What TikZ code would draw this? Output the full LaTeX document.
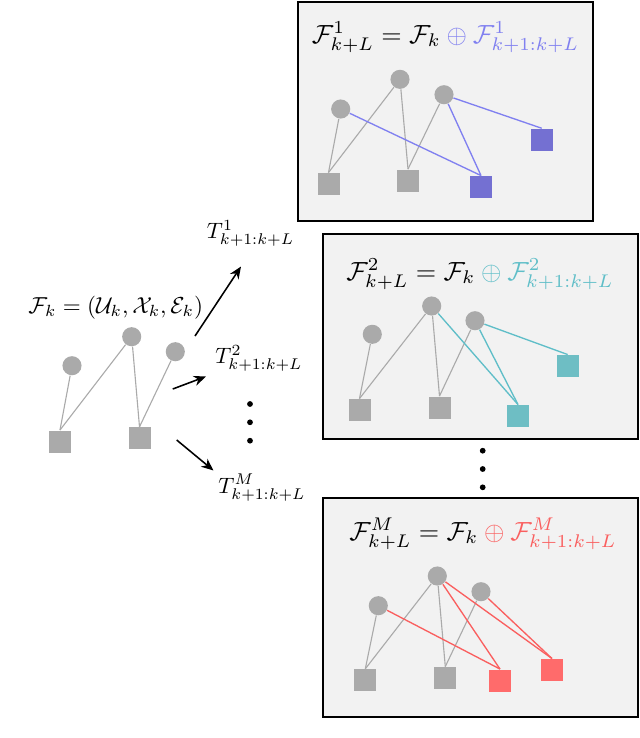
\documentclass[tikz,border=0pt]{standalone}
\usetikzlibrary{arrows.meta}
\definecolor{nodegray}{RGB}{170,170,170}
\definecolor{edgegray}{RGB}{170,170,170}
\definecolor{panelfill}{RGB}{242,242,242}
\definecolor{blueS}{RGB}{116,112,210}
\definecolor{blueL}{RGB}{128,128,240}
\definecolor{tealS}{RGB}{110,190,196}
\definecolor{tealL}{RGB}{95,190,200}
\definecolor{redS}{RGB}{255,107,107}
\definecolor{redL}{RGB}{250,95,95}
\begin{document}
\begin{tikzpicture}[x=0.45pt,y=-0.45pt,
  vert/.style={circle,fill=nodegray,minimum size=8.6pt,inner sep=0pt},
  fac/.style={rectangle,fill=#1,minimum size=9.9pt,inner sep=0pt},
  fac/.default=nodegray,
  gedge/.style={draw=edgegray,line width=0.5pt},
  cedge/.style={draw=#1,line width=0.6pt},
  panel/.style={draw=black,fill=panelfill,line width=0.9pt},
  bigarrow/.style={-{Stealth[length=5.5pt,width=4.6pt]},line width=0.7pt},
  dotn/.style={circle,fill=black,minimum size=2.6pt,inner sep=0pt},
  lbl/.style={inner sep=0pt,anchor=base,scale=1.18},
  lblw/.style={inner sep=0pt,anchor=base west}]
\useasboundingbox (0,0) rectangle (640,738);

% ---------- left graph ----------
\node[lblw,scale=1.04] (fk) at (28,313) {$\mathcal{F}_k=(\mathcal{U}_k,\mathcal{X}_k,\mathcal{E}_k)$};
\node[vert] (l1) at (72,365.7) {};
\node[vert] (l2) at (131.7,336.7) {};
\node[vert] (l3) at (175.3,351.7) {};
\node[fac] (ls1) at (60,441.5) {};
\node[fac] (ls2) at (139.5,438.3) {};
\draw[gedge] (l1) -- (ls1.north);
\draw[gedge] (l2) -- (ls1.north);
\draw[gedge] (l2) -- (ls2.north);
\draw[gedge] (l3) -- (ls2.north);

% arrows and trajectory labels
\coordinate (a1s) at (195,336);
\coordinate (a1e) at (241,266.5);
\coordinate (a2s) at (172.7,389);
\coordinate (a2e) at (206,376.5);
\coordinate (a3s) at (176.7,440);
\coordinate (a3e) at (213.5,470.5);
\draw[bigarrow] (a1s) -- (a1e);
\draw[bigarrow] (a2s) -- (a2e);
\draw[bigarrow] (a3s) -- (a3e);
\node[lblw] (t1) at (206.5,238.5) {$T^{1}_{k+1:k+L}$};
\node[lblw] (t2) at (215,363.5) {$T^{2}_{k+1:k+L}$};
\node[lblw] (tm) at (218,493) {$T^{M}_{k+1:k+L}$};
\node[dotn] (ld1) at (250,404) {};
\node[dotn] (ld2) at (250,422.3) {};
\node[dotn] (ld3) at (250,440.7) {};

% ---------- panel 1 ----------
\draw[panel] (298,2) rectangle (593,221);
\node[lbl] (f1) at (445.5,43) {$\mathcal{F}^{1}_{k+L}=\mathcal{F}_k\textcolor{blueL}{{}\oplus\mathcal{F}^{1}_{k+1:k+L}}$};
\node[vert] (a1) at (340.7,109) {};
\node[vert] (a2) at (400,79.3) {};
\node[vert] (a3) at (444,94.7) {};
\node[fac] (as1) at (328.5,184) {};
\node[fac] (as2) at (408,180.5) {};
\node[fac=blueS] (as3) at (481,187) {};
\node[fac=blueS] (as4) at (541.7,139.7) {};
\draw[gedge] (a1) -- (as1.north);
\draw[gedge] (a2) -- (as1.north);
\draw[gedge] (a2) -- (as2.north);
\draw[gedge] (a3) -- (as2.north);
\draw[cedge=blueL] (a1) -- (as3.north);
\draw[cedge=blueL] (a3) -- (as3.north);
\draw[cedge=blueL] (a3) -- (as4.north);

% ---------- panel 2 ----------
\draw[panel] (322.5,234) rectangle (638,439);
\node[lbl] (f2) at (480,280) {$\mathcal{F}^{2}_{k+L}=\mathcal{F}_k\textcolor{tealL}{{}\oplus\mathcal{F}^{2}_{k+1:k+L}}$};
\node[vert] (b1) at (372.3,334.3) {};
\node[vert] (b2) at (431.7,306) {};
\node[vert] (b3) at (475,320.7) {};
\node[fac] (bs1) at (359.5,410) {};
\node[fac] (bs2) at (439.5,407.5) {};
\node[fac=tealS] (bs3) at (518,416) {};
\node[fac=tealS] (bs4) at (567.7,366) {};
\draw[gedge] (b1) -- (bs1.north);
\draw[gedge] (b2) -- (bs1.north);
\draw[gedge] (b2) -- (bs2.north);
\draw[gedge] (b3) -- (bs2.north);
\draw[cedge=tealL] (b2) -- (bs3.north);
\draw[cedge=tealL] (b3) -- (bs3.north);
\draw[cedge=tealL] (b3) -- (bs4.north);

% dots between panels
\node[dotn] (rd1) at (482.7,450.7) {};
\node[dotn] (rd2) at (482.7,469) {};
\node[dotn] (rd3) at (482.7,487.3) {};

% ---------- panel M ----------
\draw[panel] (322.5,498) rectangle (638,717);
\node[lbl] (f3) at (483,540) {$\mathcal{F}^{M}_{k+L}=\mathcal{F}_k\textcolor{redL}{{}\oplus\mathcal{F}^{M}_{k+1:k+L}}$};
\node[vert] (c1) at (378.3,605.7) {};
\node[vert] (c2) at (437.3,576) {};
\node[vert] (c3) at (481,591.7) {};
\node[fac] (cs1) at (365.3,680.3) {};
\node[fac] (cs2) at (445.3,678) {};
\node[fac=redS] (cs3) at (500,680.5) {};
\node[fac=redS] (cs4) at (552,670) {};
\draw[gedge] (c1) -- (cs1.north);
\draw[gedge] (c2) -- (cs1.north);
\draw[gedge] (c2) -- (cs2.north);
\draw[gedge] (c3) -- (cs2.north);
\draw[cedge=redL] (c1) -- (cs3.north);
\draw[cedge=redL] (c2) -- (cs3.north);
\draw[cedge=redL] (c2) -- (cs4.north);
\draw[cedge=redL] (c3) -- (cs4.north);
\end{tikzpicture}
\end{document}
